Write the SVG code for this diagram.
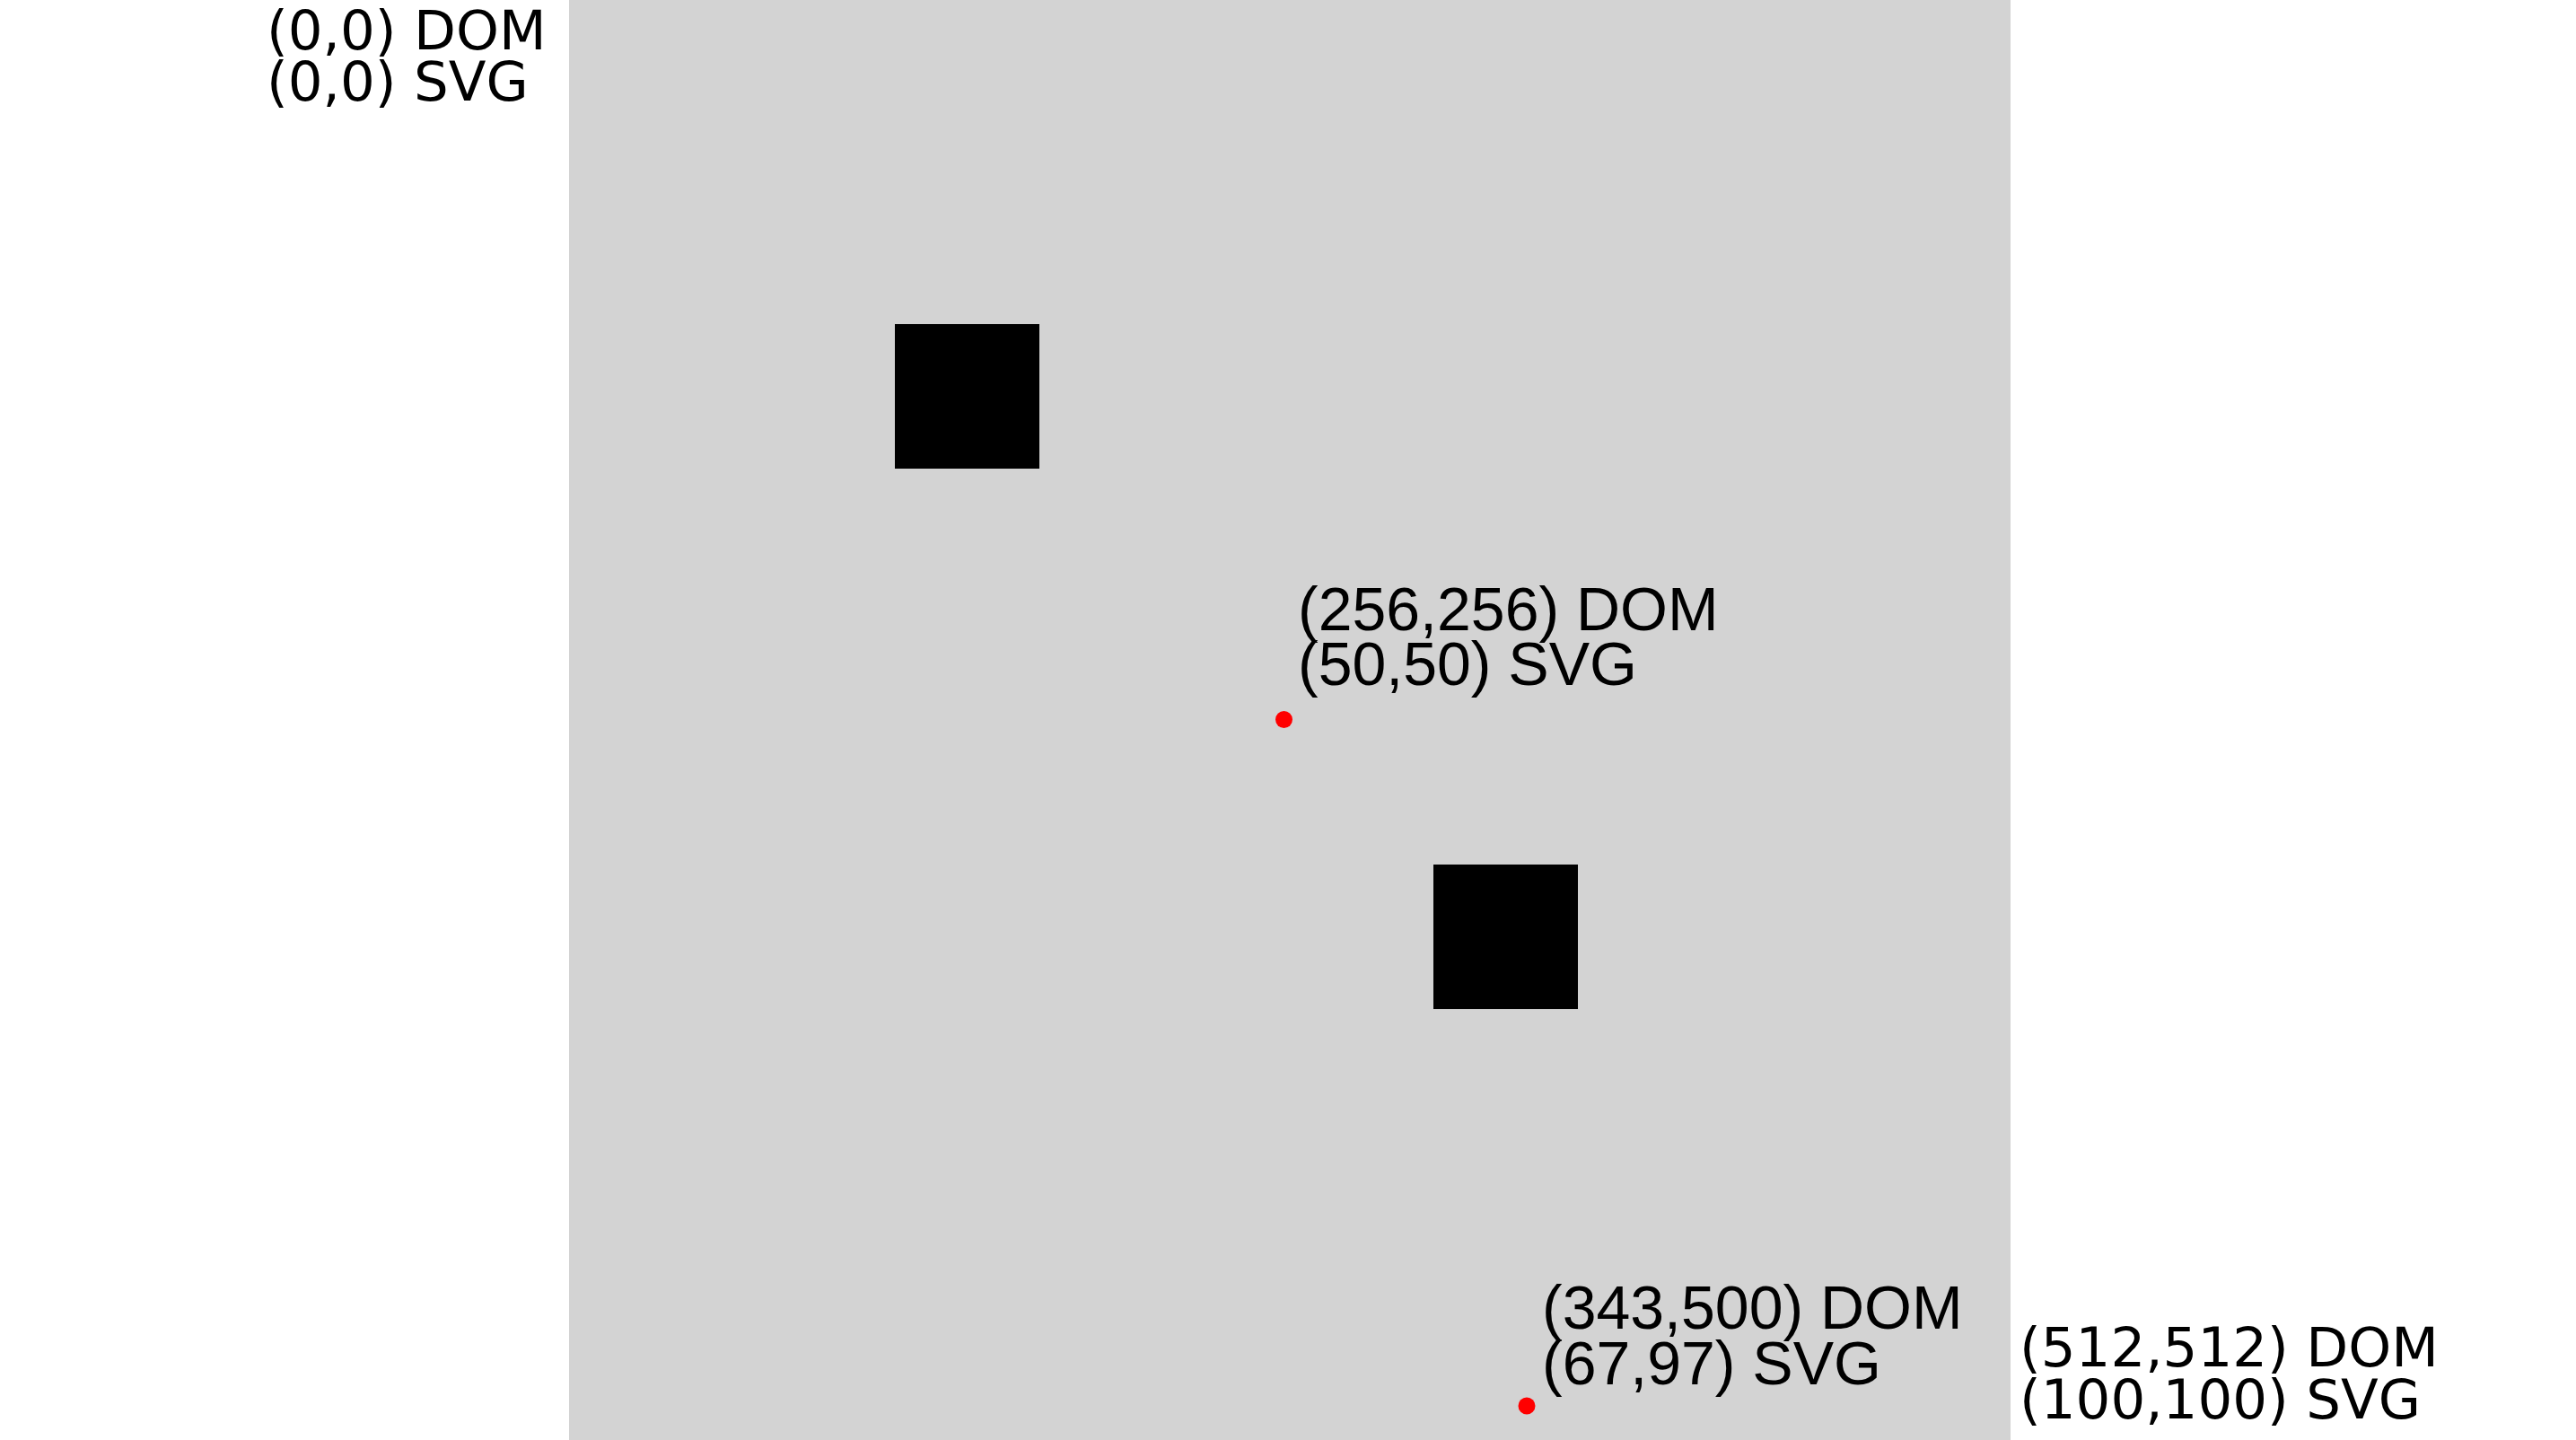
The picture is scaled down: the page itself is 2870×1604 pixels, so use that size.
<svg xmlns="http://www.w3.org/2000/svg" width="2870" height="1604" viewBox="0 0 2870 1604">
<style>
.dom{font-family:"DejaVu Sans","Liberation Sans",sans-serif;font-size:61px;fill:#000}
.lbl{font-family:"Liberation Sans",Arial,sans-serif;font-size:68px;fill:#000}
.sq{fill:#000}
.pt{fill:#ff0000}
</style>
<rect x="0" y="0" width="2870" height="1604" fill="#ffffff"/>
<g id="canvas">
<rect x="634" y="0" width="1606" height="1604" fill="#d3d3d3"/>
</g>
<g id="square1"><rect class="sq" x="997" y="361" width="161" height="161"/></g>
<g id="square2"><rect class="sq" x="1597" y="963" width="161" height="161"/></g>
<g id="point-center">
<circle class="pt" cx="1430.5" cy="801.5" r="9.5"/>
<text class="lbl" x="1446" y="701.5">(256,256) DOM</text>
<text class="lbl" x="1446" y="763">(50,50) SVG</text>
</g>
<g id="point-bottom">
<circle class="pt" cx="1701" cy="1566" r="9.5"/>
<text class="lbl" x="1718" y="1480">(343,500) DOM</text>
<text class="lbl" x="1718" y="1541.5">(67,97) SVG</text>
</g>
<g id="label-origin">
<text class="dom" x="297" y="55">(0,0) DOM</text>
<text class="dom" x="297" y="112">(0,0) SVG</text>
</g>
<g id="label-corner">
<text class="dom" x="2250" y="1522">(512,512) DOM</text>
<text class="dom" x="2250" y="1580">(100,100) SVG</text>
</g>
<g id="connectors"></g>
</svg>
